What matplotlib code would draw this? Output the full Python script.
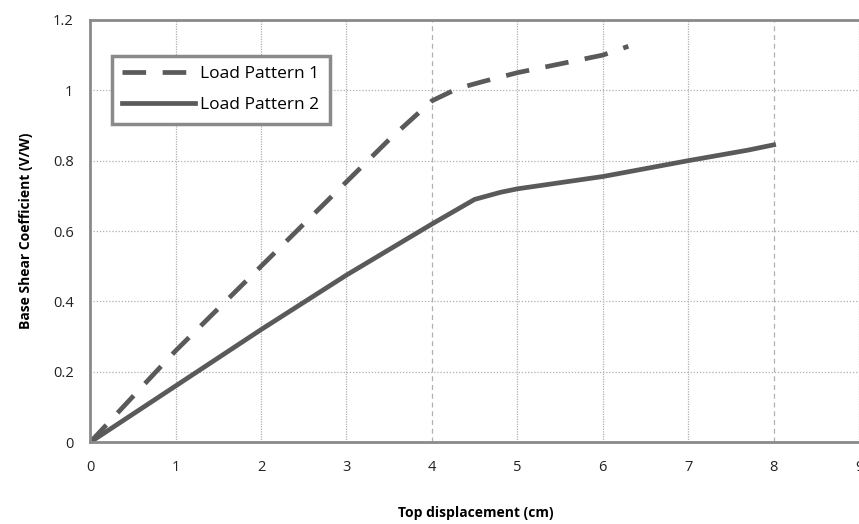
import matplotlib
matplotlib.use('Agg')
import matplotlib.pyplot as plt

# Load Pattern 1 (dashed)
disp_1 = [0, 0.5, 1, 1.5, 2, 2.5, 3, 3.5, 4, 4.3, 4.6, 5, 5.5, 6, 6.3]
shear_1 = [0, 0.13, 0.26, 0.38, 0.50, 0.62, 0.74, 0.86, 0.97, 1.005, 1.025, 1.05, 1.075, 1.10, 1.125]

# Load Pattern 2 (solid)
disp_2 = [0, 1, 2, 3, 4, 4.5, 4.8, 5, 6, 7, 7.7, 8]
shear_2 = [0, 0.16, 0.32, 0.475, 0.62, 0.69, 0.71, 0.72, 0.755, 0.80, 0.83, 0.845]

x_ticks = [0, 1, 2, 3, 4, 5, 6, 7, 8, 9]
y_ticks = [0, 0.2, 0.4, 0.6, 0.8, 1, 1.2]
y_labels = ['0', '0.2', '0.4', '0.6', '0.8', '1', '1.2']

plt.rcParams['font.family'] = ['Open Sans', 'DejaVu Sans']
line_col = '#5a5a5a'
grid_col = '#b0b0b0'

fig = plt.figure(figsize=(8.59, 5.24), dpi=100)
ax = fig.add_axes([0.105, 0.156, 0.897, 0.806])

ax.plot(disp_1, shear_1, color=line_col, lw=3.4, ls=(0, (5, 3.5)), label='Load Pattern 1')
ax.plot(disp_2, shear_2, color=line_col, lw=3.4, label='Load Pattern 2')

ax.set_xlim(0, 9.02)
ax.set_ylim(0, 1.2)
ax.set_xticks(x_ticks)
ax.set_yticks(y_ticks)
ax.set_yticklabels(y_labels)
ax.tick_params(length=0, labelsize=10.5, colors='#222222')
ax.tick_params(axis='x', pad=13)
ax.tick_params(axis='y', pad=12)

for x in x_ticks[1:]:
    ls = (0, (4, 3)) if x in (4, 8) else (0, (1, 1))
    ax.axvline(x, color=grid_col, lw=0.9, ls=ls, zorder=0)
for y in y_ticks[1:-1]:
    ax.axhline(y, color=grid_col, lw=0.9, ls=(0, (1, 1.5)), zorder=0)

for s in ax.spines.values():
    s.set_color('#8a8a8a')
    s.set_linewidth(2)

ax.set_xlabel('Top displacement (cm)', fontweight='bold', fontsize=10, labelpad=22)
ax.set_ylabel('Base Shear Coefficient (V/W)', fontweight='bold', fontsize=10, labelpad=14)

leg = ax.legend(loc='upper left', bbox_to_anchor=(0.028, 0.915), fontsize=12.5,
                handlelength=4.2, fancybox=False, framealpha=1, borderpad=0.6,
                labelspacing=0.85, handletextpad=0.3, borderaxespad=0)
leg.get_frame().set_edgecolor('#8a8a8a')
leg.get_frame().set_linewidth(2.5)

fig.savefig('out.png', dpi=100)
